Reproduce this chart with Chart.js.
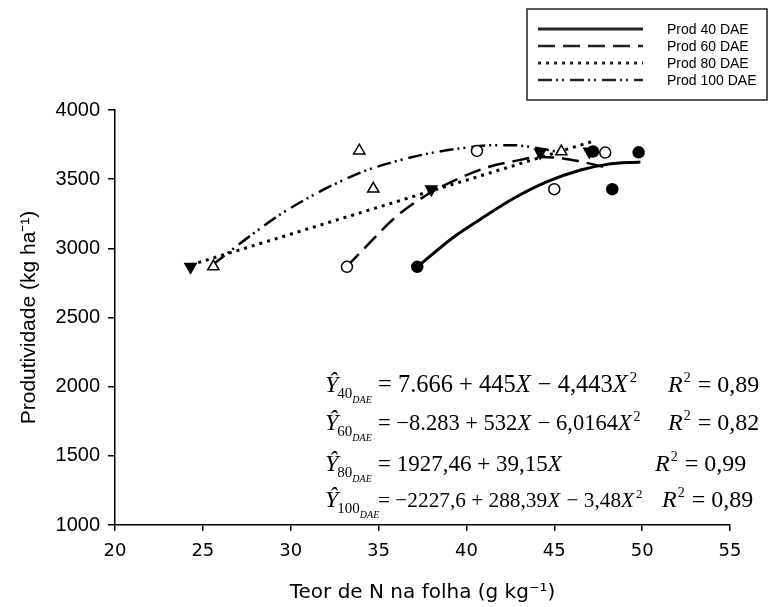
<!DOCTYPE html>
<html>
<head>
<meta charset="utf-8">
<script src="https://cdn.jsdelivr.net/npm/chart.js@4.4.1/dist/chart.umd.min.js"></script>
<style>
  html, body { margin: 0; padding: 0; background: #fff; }
  #wrap { width: 769px; height: 607px; position: relative; }
</style>
</head>
<body>
<div id="wrap"><canvas id="chart"></canvas></div>
<script>
// eixos
const xTicks = [20, 25, 30, 35, 40, 45, 50, 55];
const yTicks = [1000, 1500, 2000, 2500, 3000, 3500, 4000];

const labels = ['Prod 40 DAE', 'Prod 60 DAE', 'Prod 80 DAE', 'Prod 100 DAE'];

// pontos observados [teor de N, produtividade]
const obs40 = [[37.2, 2866], [48.3, 3428], [47.2, 3700], [49.8, 3694]];
const obs60 = [[33.2, 2866], [45.0, 3428], [40.6, 3704], [47.9, 3692]];
const obs80 = [[24.3, 2866], [38.0, 3428], [44.2, 3692], [47.0, 3700]];
const obs100 = [[25.6, 2868], [34.7, 3430], [33.9, 3706], [45.4, 3700]];

// curvas ajustadas
const fit40 = [[37.2, 2866], [39.3, 3084], [40.8, 3211], [42.7, 3362], [44.6, 3482], [46.5, 3566], [48.0, 3607], [49.9, 3624]];
const fit60 = [[33.2, 2870], [34.1, 2988], [36.0, 3229], [37.9, 3398], [39.8, 3518], [41.3, 3590], [42.7, 3630], [44.2, 3660], [45.5, 3650], [46.5, 3627], [47.2, 3607], [47.9, 3585]];
const fit80 = [[24.3, 2880], [47.1, 3770]];
const fit100 = [[25.6, 2885], [27.5, 3072], [29.4, 3245], [31.3, 3386], [32.6, 3470], [34.1, 3554], [36.0, 3630], [37.9, 3687], [39.8, 3725], [41.3, 3745], [42.7, 3745], [43.8, 3730], [45.4, 3692]];

// equações
const eqSubs = ['40', '60', '80', '100'];
const eqBodies = [
  '= 7.666 + 445X \u2212 4,443X\u00b2',
  '= \u22128.283 + 532X \u2212 6,0164X\u00b2',
  '= 1927,46 + 39,15X',
  '= \u22122227,6 + 288,39X \u2212 3,48X\u00b2'
];
const eqR2 = ['0,89', '0,82', '0,99', '0,89'];

const pts = arr => arr.map(p => ({ x: p[0], y: p[1] }));

const lineStyles = [
  { width: 3, dash: [] },
  { width: 2.5, dash: [17, 8] },
  { width: 3, dash: [3, 5] },
  { width: 2.5, dash: [14, 4, 2, 4, 2, 6] }
];

function fitSet(data, i) {
  return {
    label: labels[i],
    data: pts(data),
    showLine: true,
    borderColor: '#000',
    borderWidth: lineStyles[i].width,
    borderDash: lineStyles[i].dash,
    pointRadius: 0,
    cubicInterpolationMode: 'monotone',
    order: 1
  };
}

function obsSet(data, style, rot, filled, r) {
  return {
    label: 'obs',
    data: pts(data),
    showLine: false,
    pointStyle: style,
    rotation: rot,
    pointRadius: r,
    pointBackgroundColor: filled ? '#000' : '#fff',
    pointBorderColor: '#000',
    pointBorderWidth: 1.5,
    order: 0
  };
}

// legenda com moldura
const boxLegend = {
  id: 'boxLegend',
  afterDraw(chart) {
    const ctx = chart.ctx;
    ctx.save();
    ctx.strokeStyle = '#222';
    ctx.lineWidth = 1.5;
    ctx.strokeRect(527, 9, 240, 91);
    const rows = [29, 46, 63, 80];
    chart.data.datasets.filter(d => d.showLine).forEach((d, i) => {
      ctx.beginPath();
      ctx.lineWidth = d.borderWidth;
      ctx.setLineDash(d.borderDash);
      ctx.moveTo(538, rows[i]);
      ctx.lineTo(643, rows[i]);
      ctx.stroke();
      ctx.setLineDash([]);
      ctx.fillStyle = '#000';
      ctx.font = '14px "Liberation Sans", Arial, sans-serif';
      ctx.textBaseline = 'middle';
      ctx.fillText(d.label, 667, rows[i] + 1);
    });
    ctx.restore();
  }
};

// equações de regressão
const serif = '"Liberation Serif", "Times New Roman", serif';

function runBody(ctx, text, size, x, y, draw) {
  for (const ch of text) {
    if (ch === ' ') { x += size * 0.25; continue; }
    if (ch === '\u00b2') {
      ctx.font = Math.round(size * 0.6) + 'px ' + serif;
      if (draw) ctx.fillText('2', x + 1, y - size * 0.42);
      x += ctx.measureText('2').width + 1;
      continue;
    }
    ctx.font = (ch === 'X' ? 'italic ' : '') + size + 'px ' + serif;
    if (draw) ctx.fillText(ch, x, y);
    x += ctx.measureText(ch).width + (ch === 'X' ? 1 : 0);
  }
  return x;
}

const equations = {
  id: 'equations',
  afterDraw(chart) {
    const ctx = chart.ctx;
    const rows = [392, 430, 471, 507];
    const bodyEnd = [637, 640, 563, 642];
    const r2x = [668, 668, 655, 662];
    ctx.save();
    ctx.fillStyle = '#000';
    ctx.textBaseline = 'alphabetic';
    rows.forEach((y, i) => {
      let x = 325;
      ctx.font = 'italic 24px ' + serif;
      ctx.fillText('\u0176', x, y);
      x += ctx.measureText('\u0176').width - 1;
      ctx.font = '15px ' + serif;
      ctx.fillText(eqSubs[i], x, y + 6);
      x += ctx.measureText(eqSubs[i]).width;
      ctx.font = 'italic 10px ' + serif;
      ctx.fillText('DAE', x, y + 11);
      // ajusta o tamanho para caber até o fim medido
      const natural = runBody(ctx, eqBodies[i], 24, 0, 0, false);
      const size = 24 * (bodyEnd[i] - 378) / natural;
      runBody(ctx, eqBodies[i], size, 378, y, true);
      let rx = r2x[i];
      ctx.font = 'italic 24px ' + serif;
      ctx.fillText('R', rx, y);
      rx += ctx.measureText('R').width;
      ctx.font = '14px ' + serif;
      ctx.fillText('2', rx + 1, y - 10);
      rx += ctx.measureText('2').width + 2;
      ctx.font = '24px ' + serif;
      ctx.fillText(' = ' + eqR2[i], rx, y);
    });
    ctx.restore();
  }
};

const ctx = document.getElementById('chart').getContext('2d');
new Chart(ctx, {
  type: 'scatter',
  data: {
    datasets: [
      fitSet(fit40, 0),
      fitSet(fit60, 1),
      fitSet(fit80, 2),
      fitSet(fit100, 3),
      obsSet(obs40, 'circle', 0, true, 5.5),
      obsSet(obs60, 'circle', 0, false, 5.5),
      obsSet(obs80, 'triangle', 180, true, 6.5),
      obsSet(obs100, 'triangle', 0, false, 6.5)
    ]
  },
  options: {
    responsive: true,
    maintainAspectRatio: false,
    animation: false,
    layout: { padding: { top: 110, right: 39, left: 0, bottom: 0 } },
    plugins: {
      legend: { display: false },
      tooltip: { enabled: false }
    },
    scales: {
      x: {
        type: 'linear',
        min: 20,
        max: 55,
        afterBuildTicks: s => { s.ticks = xTicks.map(v => ({ value: v })); },
        afterFit: s => { s.height = 82; },
        ticks: {
          color: '#000',
          padding: 10,
          callback: v => String(v),
          font: { family: '"DejaVu Sans", Verdana, sans-serif', size: 18 }
        },
        grid: { drawOnChartArea: false, drawTicks: true, tickLength: 6, color: '#000', lineWidth: 1.5 },
        border: { color: '#000', width: 1.5 },
        title: {
          display: true,
          text: 'Teor de N na folha (g kg\u207b\u00b9)',
          color: '#000',
          padding: { top: 0, bottom: 2 },
          font: { family: '"DejaVu Sans", Verdana, sans-serif', size: 20 }
        }
      },
      y: {
        type: 'linear',
        min: 1000,
        max: 4000,
        afterBuildTicks: s => { s.ticks = yTicks.map(v => ({ value: v })); },
        afterFit: s => { s.width = 115; },
        ticks: {
          color: '#000',
          padding: 8,
          callback: v => String(v),
          font: { family: '"Liberation Sans", Arial, sans-serif', size: 20 }
        },
        grid: { drawOnChartArea: false, drawTicks: true, tickLength: 7, color: '#000', lineWidth: 1.5 },
        border: { color: '#000', width: 1.5 },
        title: {
          display: true,
          text: 'Produtividade (kg ha\u207b\u00b9)',
          color: '#000',
          padding: { top: 17, bottom: 0 },
          font: { family: '"Liberation Sans", Arial, sans-serif', size: 21 }
        }
      }
    }
  },
  plugins: [boxLegend, equations]
});
</script>
</body>
</html>
